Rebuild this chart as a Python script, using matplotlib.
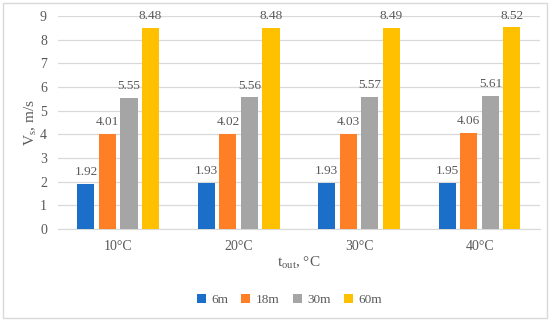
import numpy as np
import matplotlib.pyplot as plt
from matplotlib.patches import Rectangle

categories = ['10°C', '20°C', '30°C', '40°C']
series_names = ['6m', '18m', '30m', '60m']
v_6m = [1.92, 1.93, 1.93, 1.95]
v_18m = [4.01, 4.02, 4.03, 4.06]
v_30m = [5.55, 5.56, 5.57, 5.61]
v_60m = [8.48, 8.48, 8.49, 8.52]
colors = ['#1C6FC9', '#FF7F27', '#A5A5A5', '#FFC000']

plt.rcParams['font.family'] = ['Liberation Serif', 'DejaVu Serif']
plt.rcParams['mathtext.fontset'] = 'custom'
plt.rcParams['mathtext.rm'] = 'Liberation Serif'
plt.rcParams['mathtext.it'] = 'Liberation Serif'
text_color = '#595959'

fig = plt.figure(figsize=(5.5, 3.22), dpi=100)
ax = fig.add_axes([0.1055, 0.289, 0.876, 0.661])

x = np.arange(len(categories))
step = 0.179
width = 0.142
all_series = [v_6m, v_18m, v_30m, v_60m]
for i, (vals, name, c) in enumerate(zip(all_series, series_names, colors)):
    pos = x + (i - 1.5) * step
    ax.bar(pos, vals, width, color=c, label=name, zorder=3)
    for p, v in zip(pos, vals):
        ax.text(p, v + 0.25, f'{v:.2f}', ha='center', va='bottom',
                fontsize=9.5, color=text_color)

ax.set_xlim(-0.5, 3.5)
ax.set_ylim(0, 9)
ax.set_yticks(range(0, 10))
ax.set_xticks(x)
ax.set_xticklabels(categories)
ax.grid(axis='y', color='#D9D9D9', linewidth=0.9, zorder=0)
for s in ['top', 'right', 'left']:
    ax.spines[s].set_visible(False)
ax.spines['bottom'].set_color('#D9D9D9')
ax.tick_params(axis='both', length=0, labelsize=10, colors=text_color, pad=8)

ax.set_ylabel('V$_\\mathrm{s}$, m/s', fontsize=11, color=text_color, labelpad=1)
ax.set_xlabel('t$_\\mathrm{out}$, °C', fontsize=11, color=text_color, labelpad=1)

ax.legend(loc='center', bbox_to_anchor=(0.48, -0.335), ncol=4,
          frameon=False, fontsize=9.5, handlelength=0.7, handleheight=0.7,
          columnspacing=1.0, handletextpad=0.4, labelcolor=text_color)

fig.patches.append(Rectangle((0.006, 0.012), 0.988, 0.978, transform=fig.transFigure,
                             fill=False, edgecolor='#D9D9D9', linewidth=1))

fig.savefig('out.png', dpi=100)
